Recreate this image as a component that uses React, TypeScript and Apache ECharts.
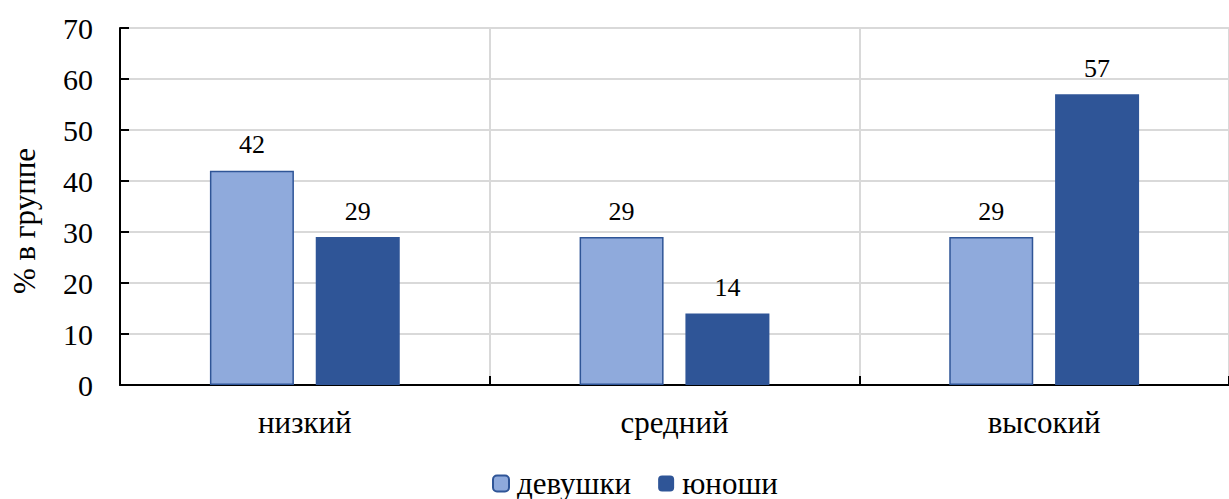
import React, { useEffect, useRef } from "react";
import * as echarts from "echarts";

const categories = ["низкий", "средний", "высокий"];
const girls = [42, 29, 29];
const boys = [29, 14, 57];
const seriesNames = ["девушки", "юноши"];
const yTicks = { min: 0, max: 70, interval: 10 };
const yAxisTitle = "% в группе";

const FONT = "Liberation Serif";

export default function App() {
  const ref = useRef<HTMLDivElement>(null);
  useEffect(() => {
    const chart = echarts.init(ref.current!, undefined, { renderer: "svg" });
    const labelStyle = {
      show: true,
      position: "top" as const,
      distance: 13,
      fontFamily: FONT,
      fontSize: 26,
      color: "#000",
    };
    chart.setOption({
      animation: false,
      backgroundColor: "#fff",
      textStyle: { fontFamily: FONT },
      grid: { left: 120, right: -8, top: 28, bottom: 114, containLabel: false },
      graphic: [
        {
          type: "text",
          x: 24,
          y: 221,
          rotation: Math.PI / 2,
          style: {
            text: yAxisTitle,
            fontFamily: FONT,
            fontSize: 31,
            fill: "#000",
            align: "center",
            verticalAlign: "middle",
          },
        },
      ],
      legend: {
        left: 487,
        top: 463,
        itemWidth: 16,
        itemHeight: 16,
        itemGap: 27,
        textStyle: { fontFamily: FONT, fontSize: 31, color: "#000", padding: [0, 0, 0, 3] },
        data: seriesNames,
      },
      xAxis: {
        type: "category",
        data: categories,
        axisLine: { lineStyle: { color: "#000", width: 2 } },
        axisTick: { show: true, inside: true, length: 9, lineStyle: { color: "#000", width: 2 } },
        splitLine: { show: true, lineStyle: { color: "#d9d9d9", width: 2 } },
        axisLabel: { fontFamily: FONT, fontSize: 31, color: "#000", margin: 22 },
      },
      yAxis: {
        type: "value",
        min: yTicks.min,
        max: yTicks.max,
        interval: yTicks.interval,
        axisLine: { show: true, lineStyle: { color: "#000", width: 2 } },
        axisTick: { show: true, inside: true, length: 9, lineStyle: { color: "#000", width: 2 } },
        splitLine: { show: true, lineStyle: { color: "#d9d9d9", width: 2 } },
        axisLabel: { fontFamily: FONT, fontSize: 30, color: "#000", margin: 27 },
      },
      series: [
        {
          name: seriesNames[0],
          type: "bar",
          data: girls,
          barWidth: 84,
          barGap: "26%",
          itemStyle: { color: "#8faadc", borderColor: "#2f5597", borderWidth: 1.5 },
          label: labelStyle,
        },
        {
          name: seriesNames[1],
          type: "bar",
          data: boys,
          barWidth: 84,
          barGap: "26%",
          itemStyle: { color: "#2f5597" },
          label: labelStyle,
        },
      ],
    });
    return () => chart.dispose();
  }, []);
  return (
    <div
      ref={ref}
      style={{ position: "absolute", left: 0, top: 0, width: 1229, height: 499 }}
    />
  );
}
